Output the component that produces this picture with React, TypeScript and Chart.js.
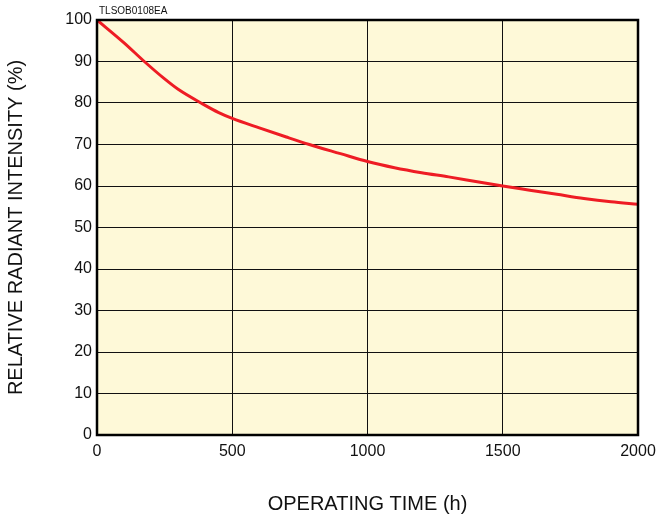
import React, { useEffect, useRef } from "react";
import { Chart, registerables } from "chart.js";

Chart.register(...registerables);

const hours = [0, 100, 175, 250, 300, 390, 450, 500, 600, 700, 785, 900, 1000, 1100, 1200, 1300, 1400, 1500, 1600, 1700, 1800, 1900, 2000];
const intensity = [100, 94.5, 90, 85.8, 83.3, 79.8, 77.7, 76.3, 74, 71.8, 70, 67.8, 65.9, 64.4, 63.2, 62.2, 61.1, 60, 59, 58, 57, 56.2, 55.6];
const xTicks = [0, 500, 1000, 1500, 2000];
const yTicks = [0, 10, 20, 30, 40, 50, 60, 70, 80, 90, 100];
const codeLabel = "TLSOB0108EA";
const xTitle = "OPERATING TIME (h)";
const yTitle = "RELATIVE RADIANT INTENSITY (%)";

const FONT = "'Liberation Sans', Arial, Helvetica, sans-serif";

export default function App() {
  const ref = useRef<HTMLCanvasElement | null>(null);
  useEffect(() => {
    const canvas = ref.current!;
    const bgPlugin = {
      id: "bgPlugin",
      beforeDraw(chart: any) {
        const { ctx, chartArea: a } = chart;
        ctx.save();
        ctx.fillStyle = "#fef9d8";
        ctx.fillRect(a.left, a.top, a.right - a.left, a.bottom - a.top);
        ctx.restore();
      },
      afterDatasetsDraw(chart: any) {
        const { ctx, chartArea: a } = chart;
        ctx.save();
        ctx.strokeStyle = "#000";
        ctx.lineWidth = 2.5;
        ctx.strokeRect(a.left, a.top, a.right - a.left, a.bottom - a.top);
        ctx.fillStyle = "#111";
        ctx.font = `10px ${FONT}`;
        ctx.textBaseline = "middle";
        ctx.textAlign = "left";
        ctx.fillText(codeLabel, a.left + 2, 11.5);
        ctx.restore();
      },
    };
    const chart = new Chart(canvas, {
      type: "line",
      data: {
        datasets: [
          {
            data: hours.map((h, i) => ({ x: h, y: intensity[i] })),
            borderColor: "#ee1c24",
            borderWidth: 3,
            pointRadius: 0,
            fill: false,
            cubicInterpolationMode: "monotone",
          },
        ],
      },
      options: {
        animation: false,
        responsive: false,
        devicePixelRatio: 1,
        layout: { padding: { top: 20, right: 21, left: 0, bottom: 0 } },
        plugins: { legend: { display: false }, tooltip: { enabled: false } },
        scales: {
          x: {
            type: "linear",
            min: 0,
            max: 2000,
            afterBuildTicks: (s: any) => {
              s.ticks = xTicks.map((v) => ({ value: v }));
            },
            afterFit: (s: any) => {
              s.height = 81;
              s.paddingLeft = 0;
              s.paddingRight = 0;
            },
            grid: { color: "#111", lineWidth: 1, drawTicks: false },
            border: { display: false },
            ticks: {
              padding: 7,
              color: "#111",
              font: { size: 16, family: FONT },
              maxRotation: 0,
              callback: (v: any) => String(v),
            },
            title: {
              display: true,
              text: xTitle,
              color: "#111",
              font: { size: 20, family: FONT },
              padding: { top: 0, bottom: 0 },
            },
          },
          y: {
            type: "linear",
            min: 0,
            max: 100,
            afterBuildTicks: (s: any) => {
              s.ticks = yTicks.map((v) => ({ value: v }));
            },
            afterFit: (s: any) => {
              s.width = 97;
            },
            grid: { color: "#111", lineWidth: 1, drawTicks: false },
            border: { display: false },
            ticks: { padding: 5, color: "#111", font: { size: 16, family: FONT }, callback: (v: any) => String(v) },
            title: {
              display: true,
              text: yTitle,
              color: "#111",
              font: { size: 20, family: FONT },
              padding: { top: 4, bottom: 0 },
            },
          },
        },
      },
      plugins: [bgPlugin],
    } as any);
    return () => chart.destroy();
  }, []);
  return (
    <div style={{ position: "absolute", left: 0, top: 0, width: 659, height: 516, background: "#fff" }}>
      <canvas ref={ref} width={659} height={516} style={{ display: "block", width: 659, height: 516 }} />
    </div>
  );
}
